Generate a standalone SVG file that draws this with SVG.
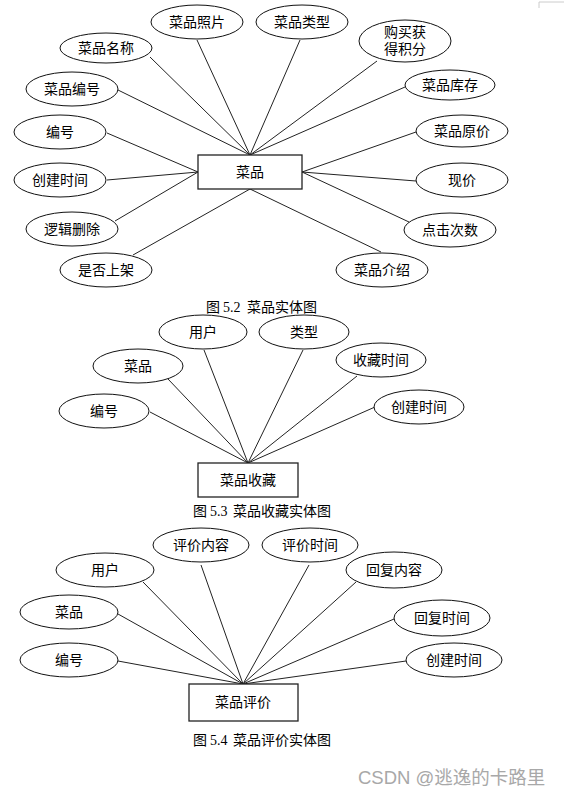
<svg xmlns="http://www.w3.org/2000/svg" width="564" height="795" viewBox="0 0 564 795">
<style>
.a{fill:#fff;stroke:#111;stroke-width:1}
.b{fill:#fff;stroke:#222;stroke-width:1.3}
.t{font-family:"Liberation Sans","Noto Sans CJK SC",sans-serif;font-size:14px;fill:#000;text-anchor:middle;dominant-baseline:central}
.c{font-family:"Liberation Serif","Noto Sans CJK SC",serif;font-size:14px;fill:#000}
.l{stroke:#222;stroke-width:1;fill:none}
</style>
<rect width="564" height="795" fill="#fff"/>
<path d="M539,8 V2 H564" stroke="#ccc" stroke-width="1" fill="none"/>
<g id="connectors">
<path class="l" d="M150,57 L250,155 M197,40 L250,155 M300,40 L250,155 M377,61 L250,155 M405,87 L250,155 M118,90 L250,155 M107,133 L198,172 M107,180 L198,172 M115,221 L198,172 M133,255 L250,189 M416,132 L302,172 M416,181 L302,172 M409,222 L302,172 M381,252 L250,189"/>
<path class="l" d="M204,350 L248,463 M168,379 L248,463 M150,412 L248,463 M303,350 L248,463 M357,376 L248,463 M375,407 L248,463"/>
<path class="l" d="M143,582 L243,684 M201,565 L243,684 M118,614 L243,684 M118,661 L243,684 M309,565 L243,684 M356,582 L243,684 M394,619 L243,684 M406,661 L243,684"/>
</g>
<g id="e1"><rect class="b" x="198" y="155" width="104" height="34"/><text class="t" x="250" y="172">菜品</text></g>
<g id="n1"><ellipse class="a" cx="106" cy="48" rx="46" ry="15"/><text class="t" x="106" y="48">菜品名称</text></g>
<g id="n2"><ellipse class="a" cx="197" cy="22" rx="46" ry="17"/><text class="t" x="197" y="22">菜品照片</text></g>
<g id="n3"><ellipse class="a" cx="302" cy="22" rx="46" ry="17"/><text class="t" x="302" y="22">菜品类型</text></g>
<g id="n4"><ellipse class="a" cx="405" cy="41" rx="46" ry="21"/><text class="t" x="405" y="32">购买获</text><text class="t" x="405" y="49">得积分</text></g>
<g id="n5"><ellipse class="a" cx="450" cy="85" rx="45" ry="15"/><text class="t" x="450" y="85">菜品库存</text></g>
<g id="n6"><ellipse class="a" cx="462" cy="131" rx="46" ry="16"/><text class="t" x="462" y="131">菜品原价</text></g>
<g id="n7"><ellipse class="a" cx="72" cy="89" rx="46" ry="17"/><text class="t" x="72" y="89">菜品编号</text></g>
<g id="n8"><ellipse class="a" cx="60" cy="132" rx="46" ry="17"/><text class="t" x="60" y="132">编号</text></g>
<g id="n9"><ellipse class="a" cx="60" cy="180" rx="46" ry="17"/><text class="t" x="60" y="180">创建时间</text></g>
<g id="n10"><ellipse class="a" cx="72" cy="229" rx="46" ry="17"/><text class="t" x="72" y="229">逻辑删除</text></g>
<g id="n11"><ellipse class="a" cx="106" cy="270" rx="46" ry="17"/><text class="t" x="106" y="270">是否上架</text></g>
<g id="n12"><ellipse class="a" cx="462" cy="180" rx="46" ry="17"/><text class="t" x="462" y="180">现价</text></g>
<g id="n13"><ellipse class="a" cx="450" cy="230" rx="46" ry="17"/><text class="t" x="450" y="230">点击次数</text></g>
<g id="n14"><ellipse class="a" cx="382" cy="270" rx="46" ry="17"/><text class="t" x="382" y="270">菜品介绍</text></g>
<text class="c" y="312"><tspan x="206">图</tspan><tspan x="223">5.2</tspan><tspan x="247">菜品实体图</tspan></text>

<g id="e2"><rect class="b" x="198" y="463" width="100" height="34"/><text class="t" x="248" y="480">菜品收藏</text></g>
<g id="m1"><ellipse class="a" cx="203" cy="332" rx="44" ry="17"/><text class="t" x="203" y="332">用户</text></g>
<g id="m2"><ellipse class="a" cx="138" cy="366" rx="45" ry="17"/><text class="t" x="138" y="366">菜品</text></g>
<g id="m3"><ellipse class="a" cx="104" cy="411" rx="45" ry="17"/><text class="t" x="104" y="411">编号</text></g>
<g id="m4"><ellipse class="a" cx="304" cy="332" rx="45" ry="17"/><text class="t" x="304" y="332">类型</text></g>
<g id="m5"><ellipse class="a" cx="381" cy="360" rx="45" ry="17"/><text class="t" x="381" y="360">收藏时间</text></g>
<g id="m6"><ellipse class="a" cx="419" cy="407" rx="45" ry="17"/><text class="t" x="419" y="407">创建时间</text></g>
<text class="c" y="516"><tspan x="193">图</tspan><tspan x="210">5.3</tspan><tspan x="233">菜品收藏实体图</tspan></text>

<g id="e3"><rect class="b" x="189" y="684" width="109" height="37"/><text class="t" x="243" y="702">菜品评价</text></g>
<g id="p1"><ellipse class="a" cx="105" cy="570" rx="49" ry="17"/><text class="t" x="105" y="570">用户</text></g>
<g id="p2"><ellipse class="a" cx="201" cy="545" rx="48" ry="17"/><text class="t" x="201" y="545">评价内容</text></g>
<g id="p3"><ellipse class="a" cx="69" cy="612" rx="49" ry="17"/><text class="t" x="69" y="612">菜品</text></g>
<g id="p4"><ellipse class="a" cx="69" cy="660" rx="49" ry="17"/><text class="t" x="69" y="660">编号</text></g>
<g id="p5"><ellipse class="a" cx="310" cy="545" rx="48" ry="17"/><text class="t" x="310" y="545">评价时间</text></g>
<g id="p6"><ellipse class="a" cx="394" cy="570" rx="48" ry="18"/><text class="t" x="394" y="570">回复内容</text></g>
<g id="p7"><ellipse class="a" cx="442" cy="618" rx="48" ry="18"/><text class="t" x="442" y="618">回复时间</text></g>
<g id="p8"><ellipse class="a" cx="454" cy="660" rx="48" ry="17"/><text class="t" x="454" y="660">创建时间</text></g>
<text class="c" y="745"><tspan x="193">图</tspan><tspan x="210">5.4</tspan><tspan x="233">菜品评价实体图</tspan></text>

<text x="358" y="784" style="font-family:'Liberation Sans','Noto Sans CJK SC',sans-serif;font-size:18.5px;fill:#a8a8a8">CSDN @逃逸的卡路里</text>
</svg>
